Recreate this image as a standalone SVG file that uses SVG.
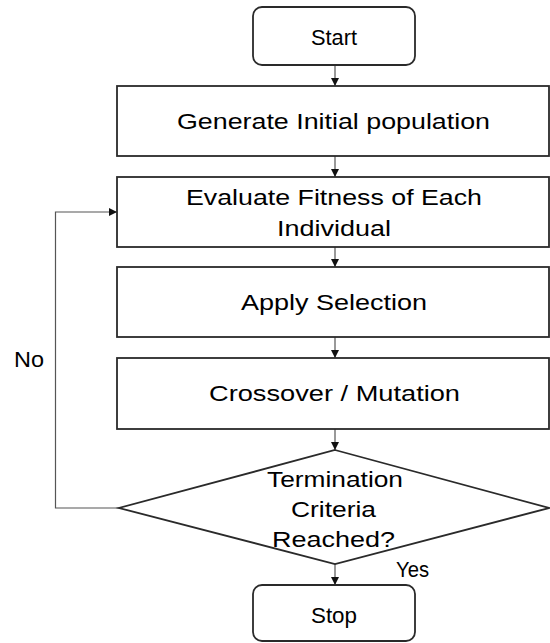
<svg xmlns="http://www.w3.org/2000/svg" width="550" height="643" viewBox="0 0 550 643">
<defs>
<style>
.box{fill:#fff;stroke:#2a2a2a;stroke-width:1.8}
.t{font-family:"Liberation Sans",Arial,sans-serif;font-size:22px;fill:#000;text-anchor:middle}
.c{fill:none;stroke:#555;stroke-width:1.2}
</style>
<marker id="ah" markerWidth="10" markerHeight="10" refX="9" refY="5" orient="auto" markerUnits="userSpaceOnUse">
<path d="M1,1 L9,5 L1,9 Z" fill="#111"/>
</marker>
</defs>
<rect width="550" height="643" fill="#fff"/>
<g id="connectors">
<line class="c" x1="335" y1="65" x2="335" y2="86" marker-end="url(#ah)"/>
<line class="c" x1="335" y1="156" x2="335" y2="177" marker-end="url(#ah)"/>
<line class="c" x1="335" y1="247" x2="335" y2="267" marker-end="url(#ah)"/>
<line class="c" x1="335" y1="337" x2="335" y2="358" marker-end="url(#ah)"/>
<line class="c" x1="335" y1="429" x2="335" y2="450" marker-end="url(#ah)"/>
<line class="c" x1="335" y1="564" x2="335" y2="585" marker-end="url(#ah)"/>
<polyline class="c" points="119,508 55.5,508 55.5,212 117,212" marker-end="url(#ah)"/>
<text class="t" x="29" y="367" textLength="30" lengthAdjust="spacingAndGlyphs">No</text>
<text class="t" x="412.5" y="577" textLength="33" lengthAdjust="spacingAndGlyphs">Yes</text>
</g>
<g id="start">
<rect class="box" x="253" y="7" width="162" height="58" rx="9"/>
<text class="t" x="334" y="45" textLength="46" lengthAdjust="spacingAndGlyphs">Start</text>
</g>
<g id="generate">
<rect class="box" x="117" y="86" width="432" height="70"/>
<text class="t" x="333.5" y="129" textLength="313" lengthAdjust="spacingAndGlyphs">Generate Initial population</text>
</g>
<g id="evaluate">
<rect class="box" x="117" y="177" width="432" height="70"/>
<text class="t" x="334" y="205" textLength="296" lengthAdjust="spacingAndGlyphs">Evaluate Fitness of Each</text>
<text class="t" x="334" y="236" textLength="114" lengthAdjust="spacingAndGlyphs">Individual</text>
</g>
<g id="selection">
<rect class="box" x="117" y="267" width="432" height="70"/>
<text class="t" x="334" y="310" textLength="186" lengthAdjust="spacingAndGlyphs">Apply Selection</text>
</g>
<g id="crossover">
<rect class="box" x="117" y="358" width="432" height="71"/>
<text class="t" x="334.5" y="401" textLength="251" lengthAdjust="spacingAndGlyphs">Crossover / Mutation</text>
</g>
<g id="decision">
<polygon class="box" points="335,450 549,508 335,564 119,508"/>
<text class="t" x="335" y="487" textLength="136" lengthAdjust="spacingAndGlyphs">Termination</text>
<text class="t" x="333.5" y="517" textLength="85" lengthAdjust="spacingAndGlyphs">Criteria</text>
<text class="t" x="333.5" y="547" textLength="123" lengthAdjust="spacingAndGlyphs">Reached?</text>
</g>
<g id="stop">
<rect class="box" x="253" y="585" width="162" height="56" rx="9"/>
<text class="t" x="334" y="623" textLength="46" lengthAdjust="spacingAndGlyphs">Stop</text>
</g>
</svg>
